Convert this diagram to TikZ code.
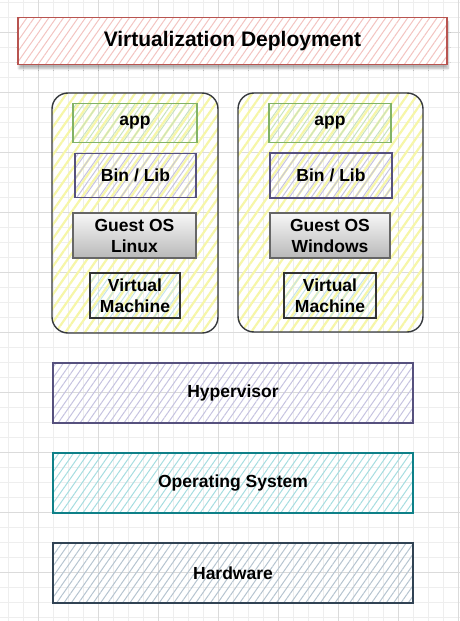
\documentclass[tikz,border=0pt]{standalone}
\usepackage{fontspec}
\setmainfont{Liberation Sans}
\usetikzlibrary{patterns.meta,shadows.blur}

\definecolor{titleline}{HTML}{B85450}
\definecolor{titlefill}{HTML}{F3C4C1}
\definecolor{vmline}{HTML}{36393D}
\definecolor{vmfill}{HTML}{F6F6A8}
\definecolor{appline}{HTML}{82B366}
\definecolor{appfill}{HTML}{C8E2BE}
\definecolor{binline}{HTML}{56517E}
\definecolor{binfill}{HTML}{C6C3E0}
\definecolor{guestline}{HTML}{666666}
\definecolor{machline}{HTML}{333333}
\definecolor{machfill}{HTML}{C4E3EA}
\definecolor{osline}{HTML}{0E8088}
\definecolor{osfill}{HTML}{A6DDE0}
\definecolor{hwline}{HTML}{314354}
\definecolor{hwfill}{HTML}{B6C4D0}

\begin{document}
\begin{tikzpicture}[x=1pt,y=-1pt,
  hatch/.style={pattern={Lines[angle=55,distance=6pt,line width=1pt]},pattern color=#1},
  boxtext/.style={font=\bfseries\fontsize{17.5}{21}\selectfont,align=center,inner sep=0pt},
  box/.style={boxtext,draw=#1,line width=1.2pt,rectangle},
  vmbox/.style={draw=vmline,line width=1.4pt,rounded corners=16pt,
    pattern={Lines[angle=55,distance=8pt,line width=2.2pt]},pattern color=vmfill},
  layer/.style={box=#1,minimum width=360pt,minimum height=60pt}]
\useasboundingbox (0,0) rectangle (460,621);
% background grid
\foreach \x in {8,23,...,458} \draw[gray!13,line width=0.6pt] (\x,0) -- (\x,621);
\foreach \y in {2,17,...,617} \draw[gray!13,line width=0.6pt] (0,\y) -- (460,\y);
\foreach \x in {38,98,...,458} \draw[gray!28,line width=0.6pt] (\x,0) -- (\x,621);
\foreach \y in {32,92,...,572} \draw[gray!28,line width=0.6pt] (0,\y) -- (460,\y);
% title
\node[box=titleline,minimum width=429pt,minimum height=47pt,
  blur shadow={shadow xshift=1pt,shadow yshift=-4pt,shadow blur steps=6,shadow opacity=30},
  preaction={fill=white},hatch=titlefill,font=\bfseries\fontsize{21}{25}\selectfont]
  (title) at (232.5,41) {Virtualization Deployment};
% virtual machines
\node[vmbox,minimum width=166pt,minimum height=240pt] (vmL) at (135,213) {};
\node[vmbox,minimum width=185pt,minimum height=239pt] (vmR) at (330.5,212.5) {};
\node[box=appline,hatch=appfill,minimum width=124pt,minimum height=39pt] (appL) at (135,123) {app};
\node[box=binline,hatch=binfill,minimum width=121pt,minimum height=44pt] (binL) at (135.5,175.5) {Bin / Lib};
\node[box=guestline,top color=gray!6,bottom color=gray!55,minimum width=123pt,minimum height=45pt] (guestL) at (134.5,235.5) {Guest OS\\Linux};
\node[box=machline,hatch=machfill,minimum width=90pt,minimum height=45pt] (machL) at (135,295.5) {Virtual\\Machine};
\node[box=appline,hatch=appfill,minimum width=122pt,minimum height=39pt] (appR) at (330,123) {app};
\node[box=binline,hatch=binfill,minimum width=122pt,minimum height=45pt] (binR) at (331,175.5) {Bin / Lib};
\node[box=guestline,top color=gray!6,bottom color=gray!55,minimum width=120pt,minimum height=45pt] (guestR) at (330,235.5) {Guest OS\\Windows};
\node[box=machline,hatch=machfill,minimum width=92pt,minimum height=45pt] (machR) at (330,295.5) {Virtual\\Machine};
% host layers
\node[layer=binline,hatch=binfill] (hyper) at (233,393) {Hypervisor};
\node[layer=osline,hatch=osfill] (os) at (233,483) {Operating System};
\node[layer=hwline,hatch=hwfill] (hw) at (233,573) {Hardware};
\end{tikzpicture}
\end{document}
